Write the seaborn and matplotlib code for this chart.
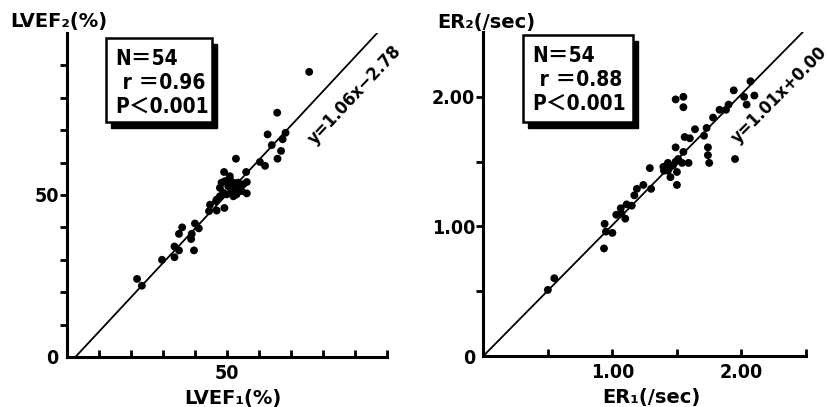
import numpy as np
import pandas as pd
import seaborn as sns
import matplotlib.pyplot as plt
from matplotlib.patches import Rectangle

# LVEF (%) : first vs second study
lvef1 = [21.9, 23.4, 29.7, 33.6, 33.6, 35.0, 35.0, 36.0, 38.8, 39.0, 39.7, 40.0, 41.2,
         44.4, 44.7, 46.8, 46.6, 49.2, 49.1, 52.8, 56.2, 56.0, 60.3, 61.9, 65.8, 66.9,
         75.7, 65.7, 62.7, 68.3, 67.4, 64.0,
         47.8, 48.3, 49.4, 50.9, 52.0, 50.4, 51.5, 53.0, 54.1, 55.1, 56.2, 49.9, 52.0,
         53.0, 47.8, 48.8, 46.8, 50.9, 52.5, 54.6, 53.5, 50.9]
lvef2 = [24.1, 22.0, 30.0, 34.1, 30.8, 32.9, 38.0, 40.0, 36.4, 38.0, 32.9, 41.2, 39.7,
         45.0, 47.0, 45.2, 48.1, 46.0, 57.1, 61.2, 50.5, 57.1, 60.2, 59.0, 61.2, 63.6,
         88.0, 75.4, 68.7, 69.2, 67.2, 65.4,
         52.2, 53.8, 54.3, 54.8, 53.8, 52.7, 51.2, 51.7, 52.2, 53.3, 54.0, 50.2, 49.6,
         50.2, 49.6, 50.7, 48.6, 53.3, 52.7, 51.2, 53.8, 55.8]

# ER (/sec) : first vs second study
er1 = [0.50, 0.55, 0.935, 0.94, 0.95, 1.00, 1.03, 1.065, 1.07, 1.10, 1.11, 1.15, 1.17,
       1.19, 1.24, 1.29, 1.30, 1.395, 1.43, 1.43, 1.45, 1.49, 1.50, 1.50, 1.51, 1.54,
       1.55, 1.59, 1.74, 1.75, 1.95, 2.03, 1.49, 1.55, 1.55, 2.07, 1.94, 2.02, 2.04,
       2.10, 1.90, 1.88, 1.83, 1.78, 1.73, 1.71, 1.64, 1.56, 1.60, 1.49, 1.74, 1.44,
       1.47, 1.40]
er2 = [0.51, 0.60, 0.83, 1.02, 0.96, 0.95, 1.09, 1.14, 1.10, 1.06, 1.17, 1.16, 1.24,
       1.29, 1.32, 1.45, 1.29, 1.46, 1.49, 1.43, 1.38, 1.50, 1.32, 1.42, 1.52, 1.49,
       1.575, 1.49, 1.55, 1.49, 1.52, 2.56, 1.98, 2.00, 1.92, 2.12, 2.05, 2.00, 1.94,
       2.01, 1.94, 1.90, 1.90, 1.84, 1.76, 1.70, 1.75, 1.69, 1.68, 1.61, 1.61, 1.45,
       1.47, 1.43]

lvef_fit = (1.06, -2.78)
er_fit = (1.01, 0.00)
lvef_stats = ['N＝54', ' r ＝0.96', 'P＜0.001']
er_stats = ['N＝54', ' r ＝0.88', 'P＜0.001']
lvef_eq = 'y=1.06x−2.78'
er_eq = 'y=1.01x+0.00'

sns.set_theme(style='ticks')
plt.rcParams['font.family'] = ['DejaVu Sans', 'Noto Sans CJK JP']
plt.rcParams['font.stretch'] = 'condensed'
plt.rcParams['font.weight'] = 'bold'
for k in ['text.color', 'axes.labelcolor', 'xtick.color', 'ytick.color',
          'axes.edgecolor']:
    plt.rcParams[k] = 'black'

fig = plt.figure(figsize=(8.3, 4.07), dpi=100)
ax1 = fig.add_axes([0.0807, 0.1229, 0.3855, 0.796])
ax2 = fig.add_axes([0.5823, 0.1253, 0.3888, 0.796])


def panel(ax, x, y, fit, lim, major, minor, ticklab, stats, eq, eq_pos,
          xlab, ylab, ylab_pos, box):
    df = pd.DataFrame({'x': x, 'y': y})
    sns.scatterplot(data=df, x='x', y='y', ax=ax, color='black', s=32,
                    edgecolor='none', zorder=3)
    m, b = fit
    x0 = max(0, -b / m)
    x1 = min(lim, (lim - b) / m)
    xs = np.array([x0, x1])
    sns.lineplot(x=xs, y=m * xs + b, ax=ax, color='black', lw=1.3)

    ax.set_xlim(0, lim)
    ax.set_ylim(0, lim)
    sns.despine(ax=ax)
    for s in ['left', 'bottom']:
        ax.spines[s].set_linewidth(2.2)
        ax.spines[s].set_color('black')

    ax.set_xticks([major[1]], [ticklab[1]])
    ax.set_yticks(major, ticklab)
    ax.set_xticks(minor + [lim], minor=True)
    ax.set_yticks(minor, minor=True)
    ax.yaxis.get_major_ticks()[0].tick1line.set_visible(False)
    ax.tick_params(axis='x', which='both', direction='in', length=5, width=2,
                   labelsize=14, pad=5, color='black', labelcolor='black')
    ax.tick_params(axis='y', which='both', direction='out', length=5, width=2,
                   labelsize=14, pad=1, color='black', labelcolor='black')
    ax.set_xlabel(xlab, fontsize=14, fontstretch='normal', fontweight='bold',
                  color='black')
    ax.xaxis.set_label_coords(0.52, -0.10)
    ax.set_ylabel(ylab, fontsize=14, fontstretch='normal', fontweight='bold',
                  rotation=0, ha='left', va='center', color='black')
    ax.yaxis.set_label_coords(*ylab_pos)

    # stats box with drop shadow
    bx, by, bw, bh = box
    ax.add_patch(Rectangle((bx + 0.016, by - 0.019), bw, bh, transform=ax.transAxes,
                           facecolor='black', edgecolor='black', zorder=4,
                           clip_on=False))
    ax.add_patch(Rectangle((bx, by), bw, bh, transform=ax.transAxes,
                           facecolor='white', edgecolor='black', lw=1.8, zorder=5,
                           clip_on=False))
    for i, line in enumerate(stats):
        ax.text(bx + 0.03, by + bh - 0.065 - i * 0.074, line, transform=ax.transAxes,
                fontsize=15, fontweight='bold', va='center', ha='left', zorder=6,
                color='black')

    ax.text(eq_pos[0], eq_pos[1], eq, fontsize=13, fontweight='bold',
            rotation=np.degrees(np.arctan(m)), transform_rotates_text=True,
            rotation_mode='anchor', ha='center', va='center', color='black')


panel(ax1, lvef1, lvef2, lvef_fit, 100, [0, 50], [10, 20, 30, 40, 60, 70, 80, 90],
      ['0', '50'], lvef_stats, lvef_eq, (90.0, 81.0), 'LVEF₁(%)', 'LVEF₂(%)',
      (-0.178, 1.037), (0.122, 0.725, 0.331, 0.26))
panel(ax2, er1, er2, er_fit, 2.5, [0, 1.0, 2.0], [0.5, 1.5], ['0', '1.00', '2.00'],
      er_stats, er_eq, (2.29, 2.01), 'ER₁(/sec)', 'ER₂(/sec)', (-0.143, 1.028),
      (0.123, 0.722, 0.341, 0.269))
# right panel shows both 1.00 and 2.00 on x
ax2.set_xticks([1.0, 2.0], ['1.00', '2.00'])
ax2.set_xticks([0.5, 1.5, 2.5], minor=True)

fig.savefig('out.png', dpi=100)
